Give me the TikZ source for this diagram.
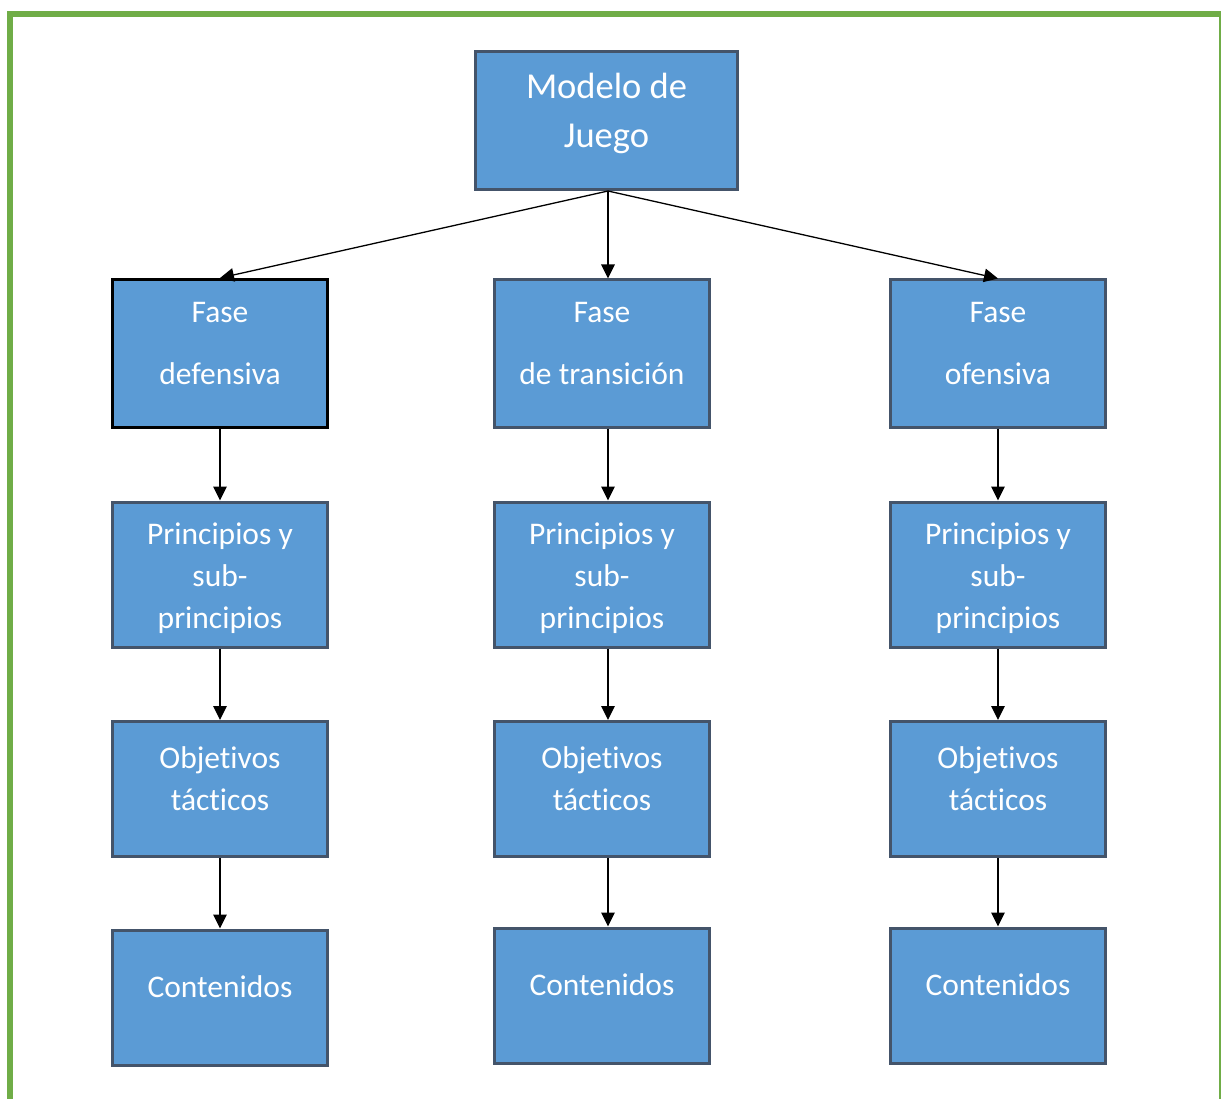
\documentclass[tikz,border=0pt]{standalone}
\usepackage{fontspec}
\setmainfont{Carlito}[Ligatures={NoCommon}]
\usetikzlibrary{arrows.meta}
\definecolor{boxfill}{HTML}{5B9BD5}
\definecolor{boxline}{HTML}{44546A}
\definecolor{frame}{HTML}{70AD47}
\tikzset{
  box/.style={draw=boxline, fill=boxfill, line width=3pt, inner sep=0pt, minimum width=215pt},
  boxblack/.style={box, draw=black},
  txt/.style={text=white, anchor=base, inner sep=0pt, font=\fontsize{31.5}{38}\selectfont},
  bigtxt/.style={txt, font=\fontsize{36.5}{44}\selectfont},
  conn/.style={draw=black, line width=1.3pt, -{Triangle[length=14pt,width=13.5pt]}}
}
\begin{document}
\begin{tikzpicture}[x=1pt,y=-1pt]
\useasboundingbox (0,0) rectangle (1221,1099);
% green frame
\draw[frame, line width=5.6pt] (9.9,1105) -- (9.9,13.8) -- (1222,13.8) -- (1222,1105);

% top box
\node[box, minimum width=262pt, minimum height=138pt] (M) at (606.5,120.5) {};
\node[bigtxt] (Mt1) at (606.5,99) {Modelo de};
\node[bigtxt] (Mt2) at (606.5,147.5) {Juego};

% row 1
\node[boxblack, minimum height=148pt] (L1) at (220,353.5) {};
\node[box, minimum height=147pt] (C1) at (602,353.5) {};
\node[box, minimum height=147pt] (R1) at (998,353.5) {};
\node[txt] (L1a) at (220,322.5) {Fase};
\node[txt] (L1b) at (220,384.5) {defensiva};
\node[txt] (C1a) at (602,322.5) {Fase};
\node[txt] (C1b) at (602,384.5) {de transición};
\node[txt] (R1a) at (998,322.5) {Fase};
\node[txt] (R1b) at (998,384.5) {ofensiva};

% row 2
\foreach \n/\x in {L2/220, C2/602, R2/998}{
  \node[box, minimum height=145pt] (\n) at (\x,574.5) {};
  \node[txt] (\n a) at (\x,544) {Principios y};
  \node[txt] (\n b) at (\x,586) {sub-};
  \node[txt] (\n c) at (\x,628) {principios};
}

% row 3
\foreach \n/\x in {L3/220, C3/602, R3/998}{
  \node[box, minimum height=135pt] (\n) at (\x,789) {};
  \node[txt] (\n a) at (\x,768) {Objet\kern0pt ivos};
  \node[txt] (\n b) at (\x,810) {táct\kern0pt icos};
}

% row 4
\node[box, minimum height=135pt] (L4) at (220,997.5) {};
\node[box, minimum height=135pt] (C4) at (602,995.5) {};
\node[box, minimum height=135pt] (R4) at (998,995.5) {};
\node[txt] (L4a) at (220,997) {Contenidos};
\node[txt] (C4a) at (602,995) {Contenidos};
\node[txt] (R4a) at (998,995) {Contenidos};

% connectors from top
\coordinate (Ms) at ([xshift=1.5pt]M.south);
\draw[conn] (Ms) -- (L1.north);
\draw[conn] (Ms) -- ([xshift=6pt]C1.north);
\draw[conn] (Ms) -- (R1.north);

% vertical connectors
\draw[conn] (L1.south) -- (L2.north);
\draw[conn] (L2.south) -- (L3.north);
\draw[conn] (L3.south) -- (L4.north);
\draw[conn] ([xshift=6pt]C1.south) -- ([xshift=6pt]C2.north);
\draw[conn] ([xshift=6pt]C2.south) -- ([xshift=6pt]C3.north);
\draw[conn] ([xshift=6pt]C3.south) -- ([xshift=6pt]C4.north);
\draw[conn] (R1.south) -- (R2.north);
\draw[conn] (R2.south) -- (R3.north);
\draw[conn] (R3.south) -- (R4.north);
\end{tikzpicture}
\end{document}
